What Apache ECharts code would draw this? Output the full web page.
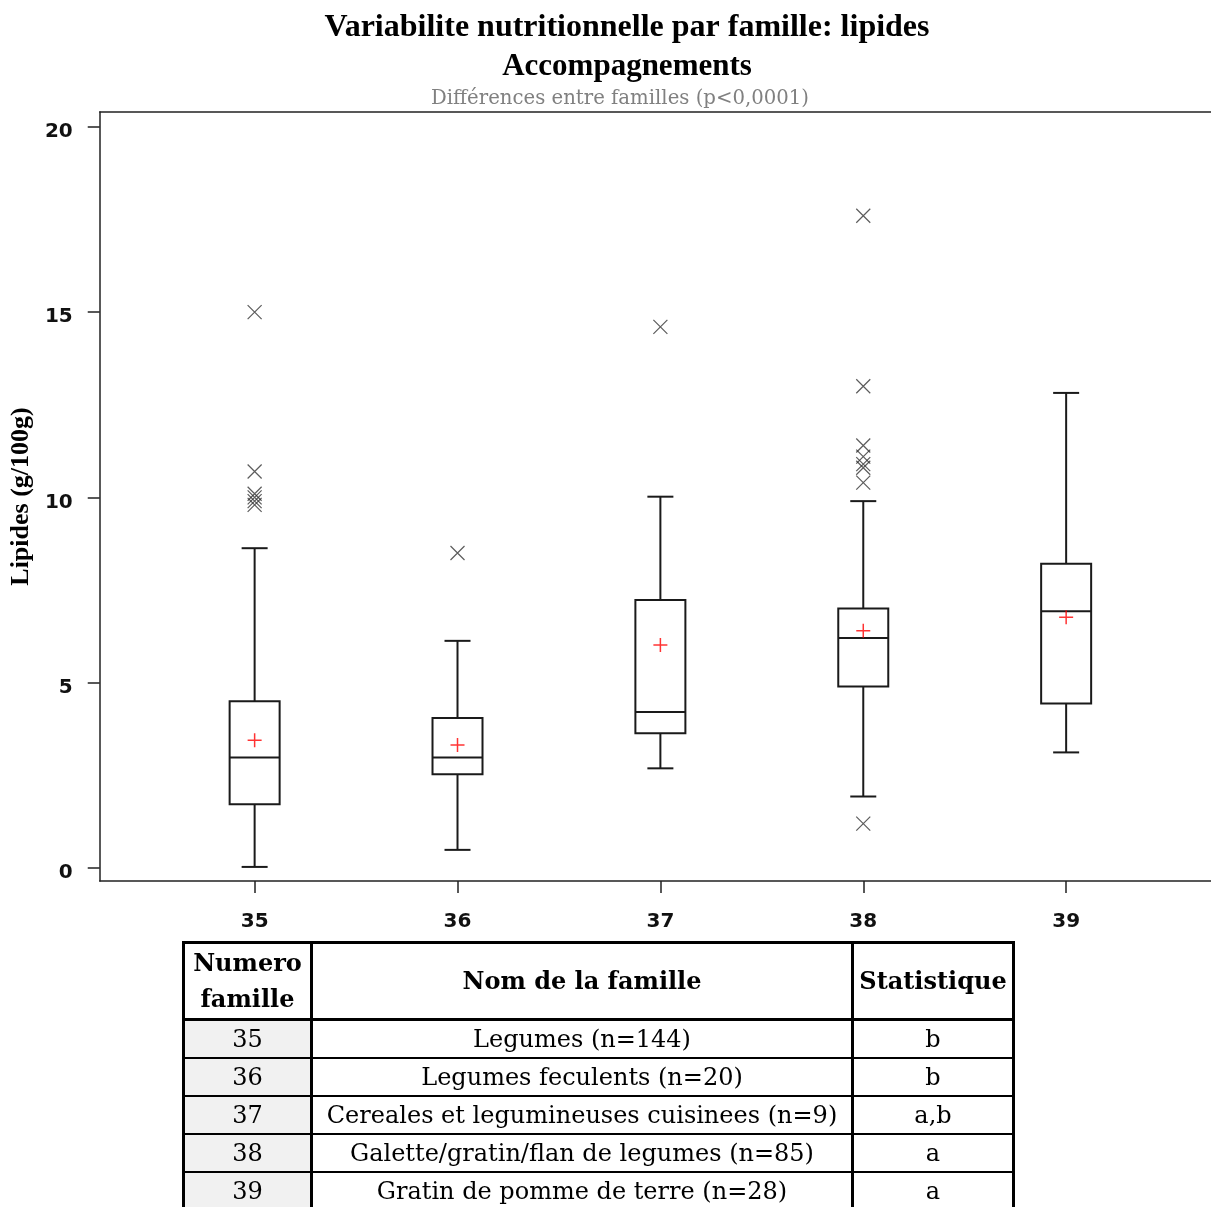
<!DOCTYPE html>
<html>
<head>
<meta charset="utf-8">
<title>Variabilite nutritionnelle par famille: lipides</title>
<script src="https://cdn.jsdelivr.net/npm/echarts@6/dist/echarts.min.js"></script>
<style>
  html, body { margin: 0; padding: 0; background: #fff; }
  .page { position: relative; width: 1211px; height: 1207px; overflow: hidden; }
  #chart { position: absolute; left: 0; top: 0; width: 1211px; height: 1207px; }
  /* tableau des familles sous le graphique */
  .fam {
    position: absolute; left: 182px; top: 941px;
    border-collapse: collapse;
    font-family: "DejaVu Serif", serif; font-size: 24px; color: #000;
  }
  .fam td, .fam th {
    border: 2px solid #000; text-align: center; padding: 0; height: 36px;
    white-space: nowrap;
  }
  .fam th { font-weight: bold; height: 74px; line-height: 36px; border-bottom: 3px solid #000; }
  .fam td.num { background: #f1f1f1; }
  .fam .c1 { width: 125px; border-right: 3px solid #000; border-left: 3px solid #000; }
  .fam .c2 { width: 538px; border-right: 3px solid #000; }
  .fam .c3 { width: 158px; border-right: 3px solid #000; }
  .fam tr:first-child th { border-top: 3px solid #000; }
</style>
</head>
<body>
<div class="page">
  <div id="chart"></div>
  <table class="fam" id="fam"></table>
</div>
<script>
  // numeros de famille (axe x)
  const familles = [35, 36, 37, 38, 39];
  // boites : [min, Q1, mediane, Q3, max]
  const boites = [
    [0.03, 1.72, 2.98, 4.50, 8.63],
    [0.49, 2.53, 2.98, 4.05, 6.13],
    [2.69, 3.64, 4.21, 7.23, 10.02],
    [1.93, 4.90, 6.21, 7.00, 9.90],
    [3.12, 4.44, 6.93, 8.21, 12.82]
  ];
  const moyennes = [3.45, 3.32, 6.02, 6.40, 6.77];
  const extremes = [
    [15.0, 10.7, 10.1, 10.0, 9.9, 9.8],
    [8.5],
    [14.6],
    [17.6, 13.0, 11.4, 11.1, 10.9, 10.8, 10.4, 1.2],
    []
  ];
  const yTicks = [0, 5, 10, 15, 20];
  // tableau
  const noms = [
    'Legumes (n=144)',
    'Legumes feculents (n=20)',
    'Cereales et legumineuses cuisinees (n=9)',
    'Galette/gratin/flan de legumes (n=85)',
    'Gratin de pomme de terre (n=28)'
  ];
  const stats = ['b', 'b', 'a,b', 'a', 'a'];

  let html = '<tr><th class="c1">Numero<br>famille</th><th class="c2">Nom de la famille</th><th class="c3">Statistique</th></tr>';
  familles.forEach(function (f, i) {
    html += '<tr><td class="c1 num">' + f + '</td><td class="c2">' + noms[i] + '</td><td class="c3">' + stats[i] + '</td></tr>';
  });
  document.getElementById('fam').innerHTML = html;

  const boxData = familles.map(function (f, i) { return [f].concat(boites[i]); });
  const outData = [];
  familles.forEach(function (f, i) {
    extremes[i].forEach(function (v) { outData.push([f, v]); });
  });
  const meanData = familles.map(function (f, i) { return [f, moyennes[i]]; });

  const xMin = 34.2365, xMax = 39.714;
  const ligne = { color: '#222', width: 1.5 };

  const chart = echarts.init(document.getElementById('chart'));
  const option = {
    animation: false,
    title: [
      {
        text: 'Variabilite nutritionnelle par famille: lipides',
        left: 622, top: 7, textAlign: 'center',
        textStyle: { fontFamily: 'Liberation Serif', fontWeight: 'bold', fontSize: 32, color: '#000' }
      },
      {
        text: 'Accompagnements',
        left: 622, top: 46, textAlign: 'center',
        textStyle: { fontFamily: 'Liberation Serif', fontWeight: 'bold', fontSize: 31, color: '#000' }
      },
      {
        text: 'Différences entre familles (p<0,0001)',
        left: 615, top: 84, textAlign: 'center',
        textStyle: { fontFamily: 'DejaVu Serif', fontWeight: 'normal', fontSize: 19.7, color: '#808080' }
      }
    ],
    grid: { left: 99, top: 112, right: 0, bottom: 326 },
    xAxis: [
      {
        type: 'value', min: xMin, max: xMax,
        splitLine: { show: false },
        axisLine: { show: true, onZero: false, lineStyle: ligne },
        axisTick: { show: true, length: 12, customValues: familles, lineStyle: ligne },
        axisLabel: {
          customValues: familles, margin: 31,
          fontFamily: 'DejaVu Sans', fontWeight: 'bold', fontSize: 20, color: '#111'
        }
      },
      {
        // bordure du haut seulement
        type: 'value', position: 'top', min: xMin, max: xMax,
        splitLine: { show: false },
        axisLine: { show: true, onZero: false, lineStyle: ligne },
        axisTick: { show: false },
        axisLabel: { show: false }
      }
    ],
    yAxis: {
      type: 'value',
      min: -0.35, max: 20.4,
      name: 'Lipides (g/100g)',
      nameLocation: 'middle', nameGap: 60, nameRotate: 90,
      nameTextStyle: { fontFamily: 'Liberation Serif', fontWeight: 'bold', fontSize: 26, color: '#000' },
      splitLine: { show: false },
      axisLine: { show: true, onZero: false, lineStyle: ligne },
      axisTick: { show: true, length: 12, customValues: yTicks, lineStyle: ligne },
      axisLabel: {
        customValues: yTicks, margin: 27,
        formatter: '{v|{value}}',
        rich: {
          v: { padding: [10, 0, 0, 0], fontFamily: 'DejaVu Sans', fontWeight: 'bold', fontSize: 20, color: '#111' }
        }
      }
    },
    series: [
      {
        type: 'custom',
        data: boxData,
        encode: { x: 0, y: [1, 2, 3, 4, 5] },
        renderItem: function (params, api) {
          const x = api.value(0);
          const pMin = api.coord([x, api.value(1)]);
          const pQ1 = api.coord([x, api.value(2)]);
          const pMed = api.coord([x, api.value(3)]);
          const pQ3 = api.coord([x, api.value(4)]);
          const pMax = api.coord([x, api.value(5)]);
          const cx = pMed[0], hw = 25, cw = 13;
          const st = { stroke: '#1a1a1a', lineWidth: 2, fill: null };
          return {
            type: 'group',
            children: [
              { type: 'rect', shape: { x: cx - hw, y: pQ3[1], width: hw * 2, height: pQ1[1] - pQ3[1] }, style: { stroke: '#1a1a1a', lineWidth: 2, fill: 'none' } },
              { type: 'line', shape: { x1: cx - hw, y1: pMed[1], x2: cx + hw, y2: pMed[1] }, style: st },
              { type: 'line', shape: { x1: cx, y1: pQ3[1], x2: cx, y2: pMax[1] }, style: st },
              { type: 'line', shape: { x1: cx, y1: pQ1[1], x2: cx, y2: pMin[1] }, style: st },
              { type: 'line', shape: { x1: cx - cw, y1: pMax[1], x2: cx + cw, y2: pMax[1] }, style: st },
              { type: 'line', shape: { x1: cx - cw, y1: pMin[1], x2: cx + cw, y2: pMin[1] }, style: st }
            ]
          };
        },
        z: 2
      },
      {
        type: 'scatter',
        data: outData,
        symbol: 'path://M0,0L10,10M10,0L0,10',
        symbolSize: 14,
        itemStyle: { color: 'none', borderColor: '#333', borderWidth: 1.2 },
        z: 3
      },
      {
        type: 'scatter',
        data: meanData,
        symbol: 'path://M5,0L5,10M0,5L10,5',
        symbolSize: 14,
        itemStyle: { color: 'none', borderColor: '#ff0000', borderWidth: 1.5 },
        z: 4
      }
    ]
  };
  chart.setOption(option);
</script>
</body>
</html>
